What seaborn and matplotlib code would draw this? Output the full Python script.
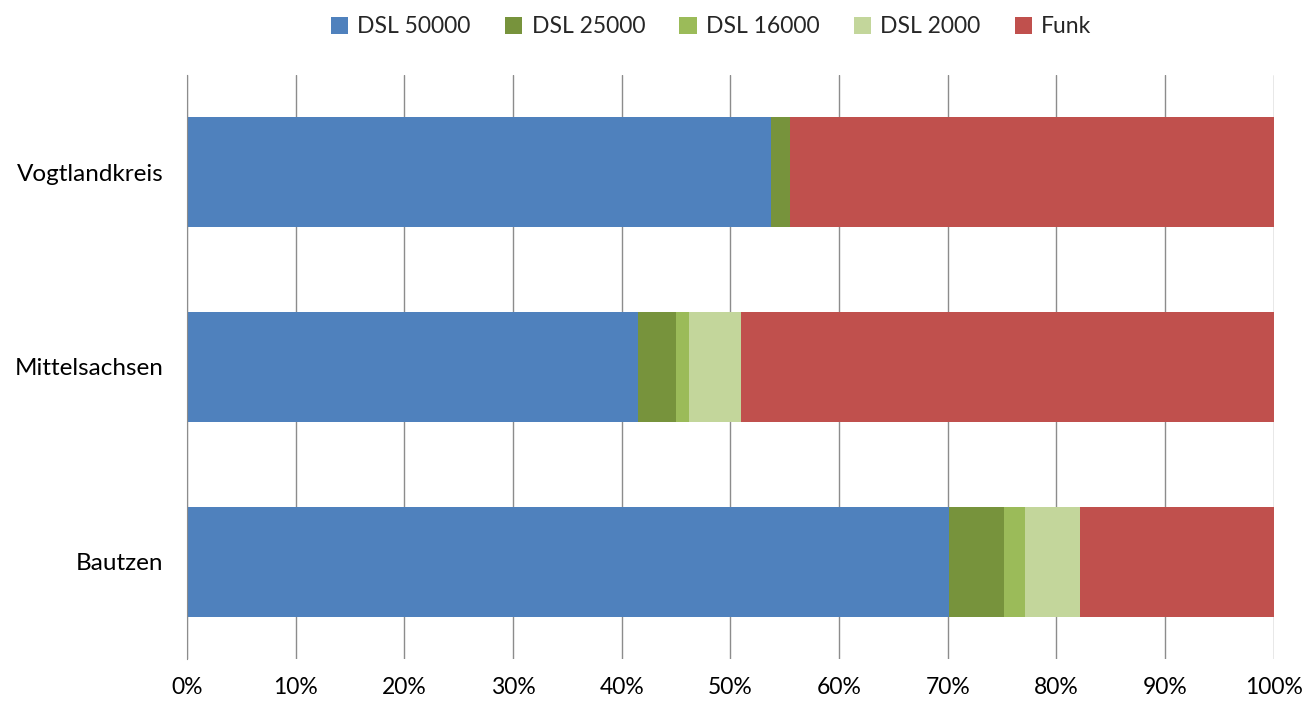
import numpy as np
import pandas as pd
import seaborn as sns
import matplotlib.pyplot as plt
import matplotlib.ticker as mtick
from matplotlib.patches import Patch

regions = ["Vogtlandkreis", "Mittelsachsen", "Bautzen"]
series = ["DSL 50000", "DSL 25000", "DSL 16000", "DSL 2000", "Funk"]
dsl_50000 = [53.7, 41.5, 70.1]
dsl_25000 = [1.8, 3.5, 5.1]
dsl_16000 = [0.0, 1.2, 1.9]
dsl_2000 = [0.0, 4.8, 5.1]
funk = [44.5, 49.0, 17.8]
colors = ["#4F81BD", "#77933C", "#9BBB59", "#C3D69B", "#C0504D"]

sns.set_style("white")
plt.rcParams["font.family"] = ["Lato", "DejaVu Sans"]

vals = np.array([dsl_50000, dsl_25000, dsl_16000, dsl_2000, funk])
cum = np.cumsum(vals, axis=0)

fig = plt.figure(figsize=(13.05, 7.04), dpi=100)
ax = fig.add_axes([0.1433, 0.064, 0.8327, 0.8295])

# stacked bars: draw cumulative totals from the back to the front
for i in range(len(series) - 1, -1, -1):
    df = pd.DataFrame({"region": regions, "value": cum[i]})
    sns.barplot(data=df, x="value", y="region", orient="h", color=colors[i],
                saturation=1, width=0.566, linewidth=0, ax=ax, zorder=2)

ax.set_xlim(0, 100)
ax.set_ylim(2.5, -0.5)
ax.set_xticks(np.arange(0, 101, 10))
ax.xaxis.set_major_formatter(mtick.PercentFormatter(100, decimals=0))
ax.set_axisbelow(True)
ax.grid(axis="x", color="#8C8C8C", lw=1)
ax.grid(axis="y", visible=False)
for s in ["top", "right", "bottom"]:
    ax.spines[s].set_visible(False)
ax.spines["left"].set_color("#8C8C8C")
ax.set_xlabel("")
ax.set_ylabel("")
ax.tick_params(axis="both", length=0, colors="#000000")
ax.tick_params(axis="x", labelsize=16.5, pad=13)
ax.tick_params(axis="y", labelsize=17.5, pad=17)

handles = [Patch(facecolor=c, edgecolor="none") for c in colors]
fig.legend(handles, series, loc="center", bbox_to_anchor=(0.545, 0.962), ncol=5,
           frameon=False, fontsize=16.5, handlelength=0.75, handleheight=0.75,
           handletextpad=0.4, columnspacing=1.5)

fig.savefig("out.png", dpi=100)
